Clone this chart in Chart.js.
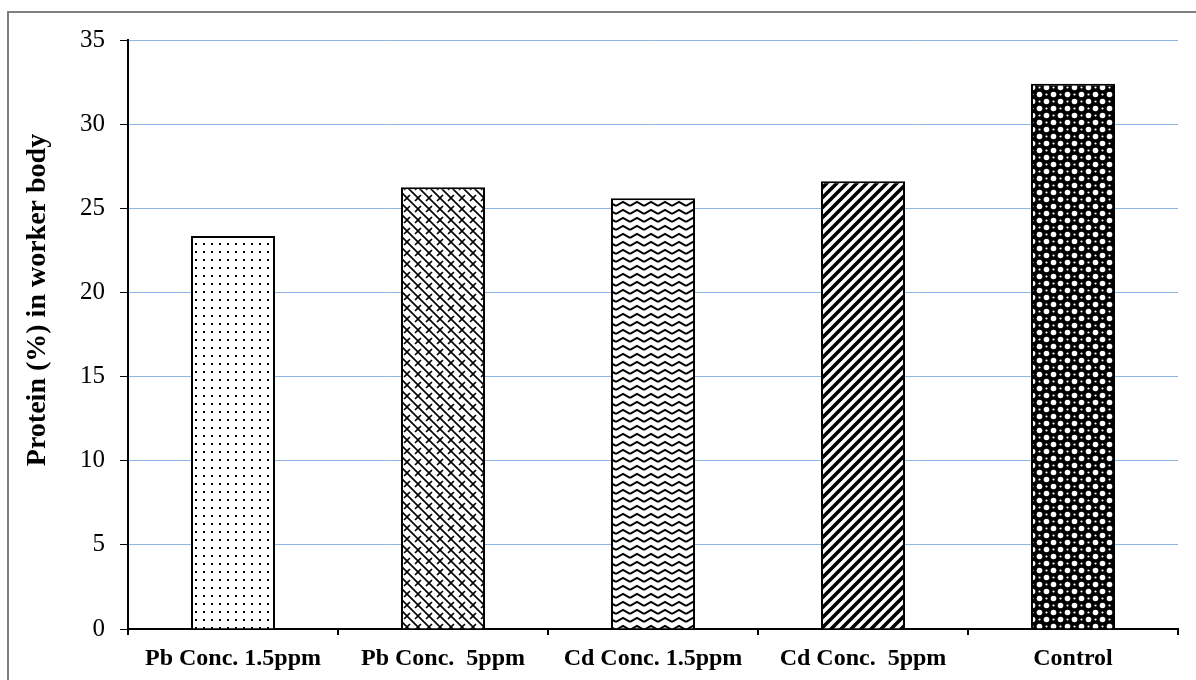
<!DOCTYPE html>
<html>
<head>
<meta charset="utf-8">
<script src="https://cdn.jsdelivr.net/npm/chart.js@4/dist/chart.umd.min.js"></script>
<style>
body { margin: 0; background: #fff; }
</style>
</head>
<body>
<canvas id="myChart" width="1196" height="680"></canvas>
<script>
// data
const categories = ["Pb Conc. 1.5ppm", "Pb Conc.  5ppm", "Cd Conc. 1.5ppm", "Cd Conc.  5ppm", "Control"];
const proteinValues = [23.35, 26.25, 25.6, 26.6, 32.4];
const yMin = 0;
const yMax = 35;
const yStep = 5;
const yTitle = "Protein (%) in worker body";

const serif = "'Liberation Serif', 'Times New Roman', serif";

let myChart = document.getElementById("myChart").getContext("2d");

// small helper: draw a tile on an offscreen canvas, return a pattern
function makePattern(w, h, draw) {
    const c = document.createElement("canvas");
    c.width = w;
    c.height = h;
    const t = c.getContext("2d");
    t.fillStyle = "#fff";
    t.fillRect(0, 0, w, h);
    t.strokeStyle = "#000";
    t.fillStyle = "#000";
    draw(t);
    return myChart.createPattern(c, "repeat");
}

// dots
const dotsPattern = makePattern(8, 8, function (t) {
    t.fillRect(3, 3, 2, 2);
});

// diamond lattice (solid "\" lines, broken "/" lines)
const latticePattern = makePattern(11, 11, function (t) {
    t.lineWidth = 1.6;
    t.beginPath();
    t.moveTo(-2, -2); t.lineTo(13, 13);
    t.moveTo(11, 0); t.lineTo(8, 3);
    t.moveTo(3, 8); t.lineTo(0, 11);
    t.stroke();
});

// zigzag waves
const zigzagPattern = makePattern(14, 8, function (t) {
    t.lineWidth = 2;
    t.beginPath();
    t.moveTo(0, 6); t.lineTo(7, 2); t.lineTo(14, 6);
    t.stroke();
});

// wide diagonal stripes
const stripePattern = makePattern(10, 10, function (t) {
    t.lineWidth = 3.6;
    t.beginPath();
    t.moveTo(-2, 12); t.lineTo(12, -2);
    t.moveTo(-7, 7); t.lineTo(7, -7);
    t.moveTo(3, 17); t.lineTo(17, 3);
    t.stroke();
});

// spheres / checker
const spherePattern = makePattern(14, 14, function (t) {
    t.fillRect(0, 0, 14, 14);
    t.fillStyle = "#fff";
    t.beginPath();
    t.arc(10.5, 3.5, 2.8, 0, Math.PI * 2);
    t.fill();
    t.beginPath();
    t.arc(3.5, 10.5, 2.8, 0, Math.PI * 2);
    t.fill();
    t.beginPath();
    t.arc(3.5, 3.5, 1.1, 0, Math.PI * 2);
    t.fill();
    t.beginPath();
    t.arc(10.5, 10.5, 1.1, 0, Math.PI * 2);
    t.fill();
});

const barPatterns = [dotsPattern, latticePattern, zigzagPattern, stripePattern, spherePattern];

// white page with the gray frame
const framePlugin = {
    id: "frame",
    beforeDraw(chart) {
        const ctx = chart.ctx;
        ctx.save();
        ctx.fillStyle = "#fff";
        ctx.fillRect(0, 0, chart.width, chart.height);
        ctx.strokeStyle = "#7f7f7f";
        ctx.lineWidth = 2;
        ctx.strokeRect(8, 12, 1300, 800);
        ctx.restore();
    }
};

// y title sits a bit above the middle of the axis in the original
const yTitlePlugin = {
    id: "yTitle",
    afterDraw(chart) {
        const ctx = chart.ctx;
        ctx.save();
        ctx.translate(38, 300);
        ctx.rotate(-Math.PI / 2);
        ctx.fillStyle = "#000";
        ctx.font = "bold 28px " + serif;
        ctx.textAlign = "center";
        ctx.textBaseline = "middle";
        ctx.fillText(yTitle, 0, 0);
        ctx.restore();
    }
};

const barChart1 = {
    type: "bar",
    data: {
        labels: categories,
        datasets: [{
            data: proteinValues,
            backgroundColor: barPatterns,
            borderColor: "#000",
            borderWidth: 2,
            barPercentage: 0.4,
            categoryPercentage: 1.0
        }]
    },
    options: {
        responsive: false,
        animation: false,
        layout: {
            padding: { top: 40, right: 18, left: 0, bottom: 0 }
        },
        plugins: {
            legend: { display: false },
            tooltip: { enabled: false }
        },
        scales: {
            x: {
                grid: {
                    offset: true,
                    drawOnChartArea: false,
                    tickColor: "#000",
                    tickLength: 6,
                    lineWidth: 2
                },
                border: { color: "#000", width: 2 },
                ticks: {
                    color: "#000",
                    autoSkip: false,
                    maxRotation: 0,
                    padding: 9,
                    font: { family: serif, size: 24, weight: "bold" }
                },
                afterFit(scale) { scale.height = 51; }
            },
            y: {
                min: yMin,
                max: yMax,
                ticks: {
                    stepSize: yStep,
                    color: "#000",
                    padding: 15,
                    font: { family: serif, size: 25 }
                },
                grid: {
                    color: "#8db4e2",
                    lineWidth: 1,
                    tickColor: "#000",
                    tickLength: 8
                },
                border: { color: "#000", width: 2 },
                afterFit(scale) { scale.width = 128; }
            }
        }
    },
    plugins: [framePlugin, yTitlePlugin]
};

var barChart = new Chart(myChart, barChart1);
</script>
</body>
</html>
